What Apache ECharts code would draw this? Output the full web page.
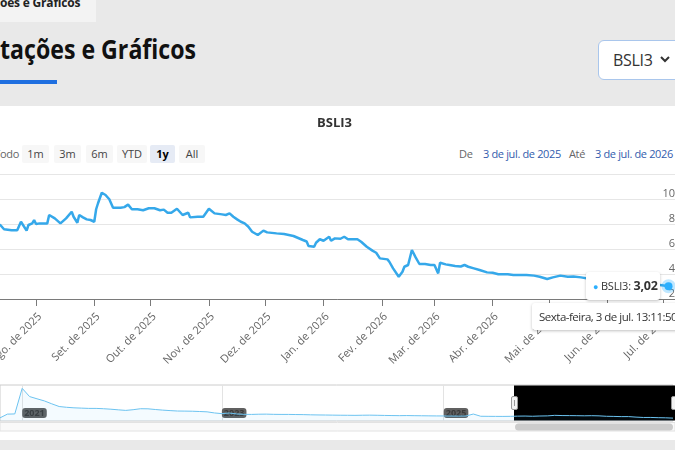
<!DOCTYPE html>
<html>
<head>
<meta charset="utf-8">
<script src="https://cdn.jsdelivr.net/npm/echarts@6/dist/echarts.min.js"></script>
<style>
  body { margin:0; width:675px; height:450px; overflow:hidden; background:#e9e9e9; font-family:"Open Sans", sans-serif; position:relative; }
  .abs { position:absolute; white-space:nowrap; }
  .cut { position:absolute; right:100%; }
  .btn { position:absolute; top:145px; height:18px; line-height:18px; background:#f7f7f7; border-radius:2px; text-align:center; font-size:11px; color:#444; }
  .sm { font-size:11px; line-height:16px; letter-spacing:-0.35px; }
  #chart { position:absolute; left:0; top:0; width:675px; height:450px; }
</style>
</head>
<body>
<div class="abs" style="left:0;top:0;width:96px;height:22px;background:#f3f3f3"></div>
<div class="abs" style="left:0;top:-4px;font-size:12px;font-weight:bold;color:#222;line-height:14px;letter-spacing:-0.2px"><span class="cut">Cotaç</span>ões e Gráficos</div>
<div class="abs" style="left:0;top:31px;font-size:26px;font-weight:bold;color:#111;line-height:36px;transform:scaleX(0.89);transform-origin:0 0"><span class="cut">Co</span>tações e Gráficos</div>
<div class="abs" style="left:0;top:80px;width:57px;height:4px;background:#1f6fe0"></div>
<div class="abs" style="left:598px;top:40px;width:100px;height:38px;border:1px solid #a9c6ec;border-radius:6px;background:#fff">
  <span class="abs" style="left:14px;top:8px;font-size:16px;letter-spacing:-0.3px;color:#333">BSLI3</span>
  <svg class="abs" style="left:61px;top:15px" width="10" height="8"><path d="M1 1 L5 5 L9 1" stroke="#333" stroke-width="2" fill="none"/></svg>
</div>

<div class="abs" style="left:0;top:106px;width:675px;height:334px;background:#fff"></div>
<div class="abs sm" style="left:0;top:146px;color:#666"><span class="cut">Perí</span>odo</div>
<div class="btn" style="left:22px;width:27px">1m</div>
<div class="btn" style="left:54px;width:27px">3m</div>
<div class="btn" style="left:86px;width:27px">6m</div>
<div class="btn" style="left:117px;width:30px">YTD</div>
<div class="btn" style="left:150px;width:25px;background:#e6ebf5;color:#000;font-weight:bold">1y</div>
<div class="btn" style="left:179px;width:26px">All</div>
<div class="abs sm" style="left:459px;top:146px;color:#666">De</div>
<div class="abs sm" style="left:483px;top:146px;color:#335cad">3 de jul. de 2025</div>
<div class="abs sm" style="left:569px;top:146px;color:#666">Até</div>
<div class="abs sm" style="left:595px;top:146px;color:#335cad">3 de jul. de 2026</div>

<div id="chart"></div>

<div class="abs" style="left:586px;top:272px;width:74px;height:28px;background:#fff;border-radius:3px;box-shadow:0 1px 3px rgba(0,0,0,0.25);z-index:5;font-size:11px;color:#333;line-height:28px;letter-spacing:-0.2px">
  <span style="color:#2caffe;font-size:9px;margin-left:7px">●</span> BSLI3: <b style="font-size:12.5px">3,02</b>
</div>
<div class="abs" style="left:532px;top:303px;width:160px;height:27px;background:#fff;border-radius:3px;box-shadow:0 1px 3px rgba(0,0,0,0.25);z-index:5;font-size:11.5px;color:#333;line-height:27px;padding-left:7px;letter-spacing:-0.5px">Sexta-feira, 3 de jul. 13:11:50</div>

<script>
// BSLI3 - ultimo ano (cotacoes)
const mainDates = [
  '2025-07-03','2025-07-13','2025-07-15','2025-07-19','2025-07-22','2025-07-24','2025-07-25','2025-07-27',
  '2025-07-28','2025-07-29','2025-07-30','2025-07-31','2025-08-01','2025-08-03','2025-08-07','2025-08-08',
  '2025-08-09','2025-08-11','2025-08-12','2025-08-14','2025-08-15','2025-08-17','2025-08-18','2025-08-20',
  '2025-08-21','2025-08-23','2025-08-24','2025-08-26','2025-08-28','2025-08-30','2025-09-01','2025-09-02',
  '2025-09-03','2025-09-05','2025-09-07','2025-09-09','2025-09-11','2025-09-15','2025-09-17','2025-09-19',
  '2025-09-21','2025-09-24','2025-09-27','2025-09-30','2025-10-03','2025-10-06','2025-10-08','2025-10-10',
  '2025-10-12','2025-10-15','2025-10-18','2025-10-19','2025-10-21','2025-10-22','2025-10-26','2025-10-29',
  '2025-11-01','2025-11-04','2025-11-08','2025-11-10','2025-11-12','2025-11-14','2025-11-16','2025-11-18',
  '2025-11-20','2025-11-22','2025-11-24','2025-11-27','2025-11-28','2025-11-30','2025-12-02','2025-12-07',
  '2025-12-11','2025-12-16','2025-12-21','2025-12-23','2025-12-24','2025-12-27','2025-12-28','2025-12-30',
  '2026-01-01','2026-01-04','2026-01-05','2026-01-07','2026-01-10','2026-01-12','2026-01-14','2026-01-19',
  '2026-01-21','2026-01-24','2026-01-27','2026-01-29','2026-01-31','2026-02-04','2026-02-05','2026-02-07',
  '2026-02-10','2026-02-12','2026-02-13','2026-02-15','2026-02-17','2026-02-19','2026-02-21','2026-02-24',
  '2026-02-27','2026-03-01','2026-03-03','2026-03-04','2026-03-07','2026-03-09','2026-03-12','2026-03-15',
  '2026-03-17','2026-03-19','2026-03-22','2026-03-25','2026-03-29','2026-04-01','2026-04-04','2026-04-09',
  '2026-04-12','2026-04-19','2026-04-23','2026-04-26','2026-04-30','2026-05-03','2026-05-04','2026-05-07',
  '2026-05-11','2026-05-14','2026-05-18','2026-05-19','2026-05-23','2026-05-31','2026-06-08','2026-06-16',
  '2026-06-24','2026-06-30','2026-07-03 13:11:50'
];
const mainValues = [
  7.9, 7.92, 7.58, 7.5, 7.5, 8.18, 8.18, 7.47,
  7.92, 7.85, 8.05, 8.32, 8.0, 8.05, 8.05, 8.72,
  8.77, 8.45, 8.4, 8.05, 8.1, 8.45, 8.5, 8.98,
  8.58, 8.1, 8.72, 8.53, 8.37, 8.32, 8.18, 9.18,
  9.66, 10.5, 10.32, 9.98, 9.3, 9.3, 9.35, 9.55,
  9.18, 9.18, 9.1, 9.26, 9.26, 9.1, 9.15, 8.9,
  8.9, 9.22, 8.72, 8.77, 8.9, 8.53, 8.58, 8.58,
  9.22, 8.85, 8.77, 8.72, 8.85, 8.58, 8.37, 8.18,
  8.05, 7.78, 7.38, 7.12, 6.98, 7.47, 7.33, 7.25,
  7.2, 7.04, 6.72, 6.6, 6.24, 6.18, 6.5, 6.78,
  6.66, 6.98, 6.66, 6.85, 6.82, 6.98, 6.78, 6.78,
  6.58, 6.18, 5.87, 5.7, 5.25, 5.17, 4.98, 4.45,
  3.78, 4.18, 4.58, 4.72, 5.92, 5.33, 4.8, 4.8,
  4.72, 4.72, 4.05, 4.9, 4.77, 4.72, 4.64, 4.6,
  4.72, 4.58, 4.45, 4.32, 4.13, 4.1, 3.98, 3.98,
  3.92, 3.92, 3.87, 3.78, 3.6, 3.73, 3.73, 3.87,
  3.78, 3.8, 3.73, 3.66, 3.6, 3.5, 3.4, 3.3,
  3.2, 3.1, 3.02
];
const monthTicks = ['2025-08-01','2025-09-01','2025-10-01','2025-11-01','2025-12-01','2026-01-01',
  '2026-02-01','2026-03-01','2026-04-01','2026-05-01','2026-06-01','2026-07-01'];
const monthLabels = ['Ago. de 2025','Set. de 2025','Out. de 2025','Nov. de 2025','Dez. de 2025','Jan. de 2026',
  'Fev. de 2026','Mar. de 2026','Abr. de 2026','Mai. de 2026','Jun. de 2026','Jul. de 2026'];

// navegador: historico completo (eixo ordinal, amostras)
const navValues = [
  3.7, 12.8, 13.3, 75.8, 55.7, 50.3, 45.1, 38.0, 31.4, 29.5,
  28.2, 27.5, 26.8, 26.8, 26.0, 24.8, 23.3, 21.9, 23.6, 26.0,
  25.8, 24.1, 22.6, 21.4, 20.4, 20.2, 19.9, 19.2, 18.4, 15.7,
  14.0, 15.5, 13.3, 12.3, 12.1, 12.6, 12.8, 12.3, 12.1, 12.1,
  11.8, 11.6, 11.1, 10.8, 10.6, 10.35, 10.1, 10.0, 9.8, 10.1,
  10.3, 10.0, 9.6, 9.3, 9.1, 9.3, 9.0, 8.8, 8.6, 8.4,
  8.3, 8.1, 8.0, 8.2, 13.0, 7.6, 7.4, 7.3, 7.2, 7.4,
  7.9, 8.1, 7.6, 8.2, 8.5, 9.8, 9.3, 9.2, 9.0, 8.7,
  9.0, 8.6, 7.5, 7.2, 6.7, 6.8, 5.5, 4.6, 4.7, 4.1,
  3.8, 3.0
];
const navYearIndex = [3, 30, 60];
const navYearLabels = ['2021', '2023', '2025'];

const FONT = '"Open Sans", sans-serif';
const toTime = s => new Date(s.length > 10 ? s.replace(' ', 'T') : s + 'T00:00:00').getTime();
const tickTimes = monthTicks.map(toTime);

let mainData = mainDates.map((d, i) => [toTime(d), mainValues[i]]);
let last = mainData.pop();
mainData.push({
  value: last, symbol: 'circle', symbolSize: 8,
  itemStyle: { color: '#2caffe', borderColor: 'rgba(44,175,254,0.3)', borderWidth: 6 }
});

const chart = echarts.init(document.getElementById('chart'), null, { renderer: 'canvas' });
chart.setOption({
  animation: false,
  title: { text: 'BSLI3', left: 312, top: 112, textStyle: { fontSize: 13, fontWeight: 'bold', color: '#333', fontFamily: FONT } },
  grid: [
    { left: -18.5, right: 0, top: 174, height: 125, outerBoundsMode: 'none', containLabel: false },
    { left: 0, right: 2, top: 385, height: 36, outerBoundsMode: 'none', show: true, borderColor: '#cccccc', borderWidth: 1, backgroundColor: 'transparent' }
  ],
  xAxis: [
    {
      type: 'value', gridIndex: 0, min: toTime('2025-07-03'), max: toTime('2026-07-07'),
      axisLine: { lineStyle: { color: '#7a7a7a' } },
      axisTick: { show: true, length: 7, lineStyle: { color: '#7a7a7a' }, customValues: tickTimes },
      splitLine: { show: false },
      axisLabel: {
        customValues: tickTimes, rotate: 45, align: 'right', verticalAlign: 'top', margin: 12,
        color: '#666', fontSize: 11, fontFamily: FONT,
        formatter: v => { const i = tickTimes.indexOf(+v); return i >= 0 ? monthLabels[i] : ''; }
      }
    },
    {
      type: 'category', gridIndex: 1, boundaryGap: false,
      data: navValues.map((v, i) => String(i)),
      axisLine: { show: false }, axisTick: { show: false },
      splitLine: { show: true, interval: i => navYearIndex.includes(i), lineStyle: { color: '#e3e3e3' } },
      axisLabel: {
        inside: true, interval: i => navYearIndex.includes(i), align: 'left', margin: 3,
        formatter: v => navYearLabels[navYearIndex.indexOf(+v)] || '',
        fontSize: 9, fontWeight: 'bold', color: '#3a3a3a', backgroundColor: '#606060',
        borderRadius: 3, padding: [1, 2, 0, 2], fontFamily: FONT
      }
    }
  ],
  yAxis: [
    {
      type: 'value', gridIndex: 0, position: 'right', min: 2, max: 12, interval: 2,
      axisLine: { show: false }, axisTick: { show: false },
      splitLine: { lineStyle: { color: '#e6e6e6' } },
      axisLabel: { inside: true, margin: 0, verticalAlign: 'bottom', showMaxLabel: false, color: '#666', fontSize: 11, fontFamily: FONT }
    },
    { type: 'value', gridIndex: 1, min: -4, max: 84, show: false }
  ],
  series: [
    {
      type: 'line', xAxisIndex: 0, yAxisIndex: 0, data: mainData, symbol: 'none',
      lineStyle: { color: '#35a8ea', width: 2.5 }, z: 3
    },
    {
      type: 'line', xAxisIndex: 1, yAxisIndex: 1, data: navValues, symbol: 'none',
      lineStyle: { color: '#6cc3f0', width: 1 },
      areaStyle: { color: 'rgba(44,175,254,0.07)', origin: 'start' }
    }
  ],
  graphic: [
    { type: 'rect', shape: { x: 0, y: 422.5, width: 675, height: 8.5 }, style: { fill: '#f9f9f9', stroke: '#e2e2e2' } },
    { type: 'rect', shape: { x: 515, y: 423.5, width: 158, height: 7, r: 3.5 }, style: { fill: '#cccccc' } },
    { type: 'rect', shape: { x: 514, y: 385.5, width: 161, height: 35 }, style: { fill: '#000' } },
    { type: 'rect', shape: { x: 511.5, y: 396.5, width: 6, height: 13, r: 1.5 }, style: { fill: '#f2f2f2', stroke: '#999' } },
    { type: 'line', shape: { x1: 514.5, y1: 400, x2: 514.5, y2: 406 }, style: { stroke: '#999' } },
    { type: 'rect', shape: { x: 671.5, y: 396.5, width: 6, height: 13, r: 1.5 }, style: { fill: '#f2f2f2', stroke: '#999' } }
  ]
});
</script>
</body>
</html>
